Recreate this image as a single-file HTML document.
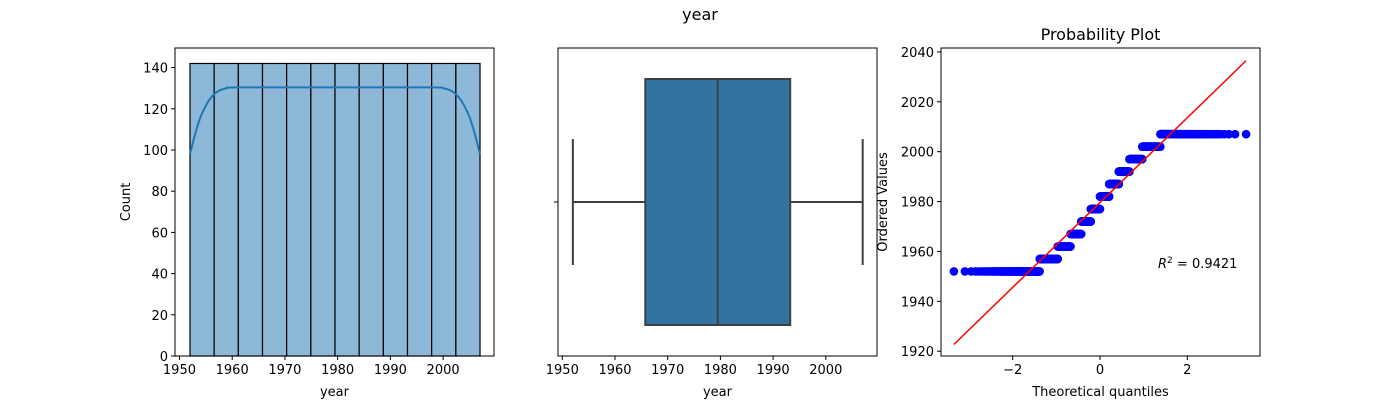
<!DOCTYPE html>
<html><head><meta charset="utf-8"><style>
html,body{margin:0;padding:0;background:#fff;}
svg{display:block;font-family:"DejaVu Sans","Liberation Sans",sans-serif;}
</style></head><body>
<svg id="fig" width="1400" height="400" viewBox="0 0 1400 400" xmlns="http://www.w3.org/2000/svg">
<text x="700" y="20" font-size="16" text-anchor="middle" fill="#000">year</text>
<g id="ax1"></g>
<g id="ax2"></g>
<g id="ax3"></g>
</svg>
<script>
// ---- data ----
const binEdges = [1952,1956.58,1961.17,1965.75,1970.33,1974.92,1979.5,1984.08,1988.67,1993.25,1997.83,2002.42,2007];
const binCounts = [142,142,142,142,142,142,142,142,142,142,142,142];
const kdeX = [1952,1953,1954,1955,1956,1957,1958,1959,1961,1980,1998,2000,2001,2002,2003,2004,2005,2006,2007];
const kdeY = [98,108,116,121.5,125.5,128,129.3,130,130.4,130.4,130.4,130,129.3,128,125.5,121.5,116,108,98];
const histYTicks = [0,20,40,60,80,100,120,140];
const yearTicks = [1950,1960,1970,1980,1990,2000];
const boxStats = {min:1952, q1:1965.75, median:1979.5, q3:1993.25, max:2007};
const ppYears = [1952,1957,1962,1967,1972,1977,1982,1987,1992,1997,2002,2007];
const ppCounts = [142,142,142,142,142,142,142,142,142,142,142,142];
const fitSlope = 17.0, fitIntercept = 1979.6;
const ppXTicks = [-2,0,2];
const ppYTicks = [1920,1940,1960,1980,2000,2020,2040];
const r2Text = "0.9421";

const NS="http://www.w3.org/2000/svg";
function mk(parent,tag,attrs,text){const e=document.createElementNS(NS,tag);for(const k in attrs)e.setAttribute(k,attrs[k]);if(text!==undefined)e.textContent=text;parent.appendChild(e);return e;}

// ---- axis 1: histogram ----
(function(){
const g=document.getElementById('ax1');
const L=175,R=494,T=48,B=356;
const xs=v=>190+(v-1952)*5.273, ys=v=>B-v*2.06;
for(let i=0;i<binCounts.length;i++){
 const r=mk(g,'rect',{x:xs(binEdges[i]),y:ys(binCounts[i]),width:xs(binEdges[i+1])-xs(binEdges[i]),height:B-ys(binCounts[i]),fill:'#8db8d8',stroke:'#000','stroke-width':1.2});
 
 
}
let pts=kdeX.map((x,i)=>[xs(x),ys(kdeY[i])]);
let d='M'+pts[0][0].toFixed(1)+','+pts[0][1].toFixed(1);
for(let i=1;i<pts.length;i++){const p0=pts[Math.max(0,i-2)],p1=pts[i-1],p2=pts[i],p3=pts[Math.min(pts.length-1,i+1)];
 d+='C'+(p1[0]+(p2[0]-p0[0])/6).toFixed(1)+','+(p1[1]+(p2[1]-p0[1])/6).toFixed(1)+' '+(p2[0]-(p3[0]-p1[0])/6).toFixed(1)+','+(p2[1]-(p3[1]-p1[1])/6).toFixed(1)+' '+p2[0].toFixed(1)+','+p2[1].toFixed(1);}
const p=mk(g,'path',{d:d,fill:'none',stroke:'#1f77b4','stroke-width':2});


mk(g,'rect',{x:L,y:T,width:R-L,height:B-T,fill:'none',stroke:'#000','stroke-width':1});
histYTicks.forEach(t=>{const y=ys(t);mk(g,'line',{x1:L-4,x2:L,y1:y,y2:y,stroke:'#000'});
 const tx=mk(g,'text',{x:L-7,y:y+5,'font-size':13,'text-anchor':'end'},String(t));
 
 });
yearTicks.forEach(t=>{const x=xs(t);mk(g,'line',{x1:x,x2:x,y1:B,y2:B+4,stroke:'#000'});
 const tx=mk(g,'text',{x:x,y:B+18,'font-size':13,'text-anchor':'middle'},String(t));
 
 });
const xl=mk(g,'text',{x:(L+R)/2,y:396,'font-size':13,'text-anchor':'middle'},'year');


const yl=mk(g,'text',{x:0,y:0,'font-size':13,'text-anchor':'middle',transform:`translate(130,${(T+B)/2}) rotate(-90)`},'Count');


})();

// ---- axis 2: boxplot ----
(function(){
const g=document.getElementById('ax2');
const L=558,R=877,T=48,B=356;
const xs=v=>562.3+(v-1950)*5.27;
const cy=202, bt=79, bb=325, ct=139, cb=265, c='#3f3f3f';
mk(g,'line',{x1:xs(boxStats.min),x2:xs(boxStats.q1),y1:cy,y2:cy,stroke:c,'stroke-width':2});
mk(g,'line',{x1:xs(boxStats.q3),x2:xs(boxStats.max),y1:cy,y2:cy,stroke:c,'stroke-width':2});
mk(g,'line',{x1:xs(boxStats.min),x2:xs(boxStats.min),y1:ct,y2:cb,stroke:c,'stroke-width':2});
mk(g,'line',{x1:xs(boxStats.max),x2:xs(boxStats.max),y1:ct,y2:cb,stroke:c,'stroke-width':2});
const b=mk(g,'rect',{x:xs(boxStats.q1),y:bt,width:xs(boxStats.q3)-xs(boxStats.q1),height:bb-bt,fill:'#3274a1',stroke:c,'stroke-width':2});


mk(g,'line',{x1:xs(boxStats.median),x2:xs(boxStats.median),y1:bt,y2:bb,stroke:c,'stroke-width':2});
mk(g,'rect',{x:L,y:T,width:R-L,height:B-T,fill:'none',stroke:'#000','stroke-width':1});
mk(g,'line',{x1:L-4,x2:L,y1:cy,y2:cy,stroke:'#000'});
yearTicks.forEach(t=>{const x=xs(t);mk(g,'line',{x1:x,x2:x,y1:B,y2:B+4,stroke:'#000'});
 const tx=mk(g,'text',{x:x,y:B+18,'font-size':13,'text-anchor':'middle'},String(t));
 
 });
const xl=mk(g,'text',{x:(L+R)/2,y:396,'font-size':13,'text-anchor':'middle'},'year');


})();

// ---- axis 3: probability plot ----
function ppf(p){const a=[-39.6968302866538,220.946098424521,-275.928510446969,138.357751867269,-30.6647980661472,2.50662827745924],
b=[-54.4760987982241,161.585836858041,-155.698979859887,66.8013118877197,-13.2806815528857],
c=[-0.00778489400243029,-0.322396458041136,-2.40075827716184,-2.54973253934373,4.37466414146497,2.93816398269878],
d=[0.00778469570904146,0.32246712907004,2.445134137143,3.75440866190742];
const pl=0.02425;let q,r;
if(p<pl){q=Math.sqrt(-2*Math.log(p));return(((((c[0]*q+c[1])*q+c[2])*q+c[3])*q+c[4])*q+c[5])/((((d[0]*q+d[1])*q+d[2])*q+d[3])*q+1);}
if(p>1-pl){q=Math.sqrt(-2*Math.log(1-p));return-(((((c[0]*q+c[1])*q+c[2])*q+c[3])*q+c[4])*q+c[5])/((((d[0]*q+d[1])*q+d[2])*q+d[3])*q+1);}
q=p-0.5;r=q*q;return(((((a[0]*r+a[1])*r+a[2])*r+a[3])*r+a[4])*r+a[5])*q/(((((b[0]*r+b[1])*r+b[2])*r+b[3])*r+b[4])*r+1);}
(function(){
const g=document.getElementById('ax3');
const L=941,R=1260,T=48,B=356;
const xs=v=>1100+v*43.65, ys=v=>351.2-(v-1920)*2.494;
const n=ppCounts.reduce((s,v)=>s+v,0);
const pts=mk(g,'g',{fill:'#0000ff'});


let i=0,minQ=0,maxQ=0;
ppYears.forEach((yr,k)=>{for(let j=0;j<ppCounts[k];j++){i++;
 let pr=(i-0.3175)/(n+0.365); if(i===n)pr=Math.pow(0.5,1/n); if(i===1)pr=1-Math.pow(0.5,1/n);
 const q=ppf(pr); minQ=Math.min(minQ,q); maxQ=Math.max(maxQ,q);
 mk(pts,'circle',{cx:xs(q).toFixed(1),cy:ys(yr).toFixed(1),r:4.3});}});
const fl=mk(g,'line',{x1:xs(minQ),y1:ys(fitIntercept+fitSlope*minQ),x2:xs(maxQ),y2:ys(fitIntercept+fitSlope*maxQ),stroke:'#ff0000','stroke-width':1.5});


mk(g,'rect',{x:L,y:T,width:R-L,height:B-T,fill:'none',stroke:'#000','stroke-width':1});
ppYTicks.forEach(t=>{const y=ys(t);mk(g,'line',{x1:L-4,x2:L,y1:y,y2:y,stroke:'#000'});
 const tx=mk(g,'text',{x:L-7,y:y+5,'font-size':13,'text-anchor':'end'},String(t));
 
 });
ppXTicks.forEach(t=>{const x=xs(t);mk(g,'line',{x1:x,x2:x,y1:B,y2:B+4,stroke:'#000'});
 const tx=mk(g,'text',{x:x,y:B+18,'font-size':13,'text-anchor':'middle'},t<0?'\u2212'+(-t):String(t));
 
 });
const tt=mk(g,'text',{x:(L+R)/2,y:40,'font-size':16,'text-anchor':'middle'},'Probability Plot');


const xl=mk(g,'text',{x:(L+R)/2,y:396,'font-size':13,'text-anchor':'middle'},'Theoretical quantiles');


const yl=mk(g,'text',{x:0,y:0,'font-size':13,'text-anchor':'middle',transform:`translate(887,${(T+B)/2}) rotate(-90)`},'Ordered Values');


const r2=mk(g,'text',{x:1158,y:268,'font-size':13},'');


mk(r2,'tspan',{'font-style':'italic'},'R');
mk(r2,'tspan',{dy:-5,'font-size':9},'2');
mk(r2,'tspan',{dy:5},' = '+r2Text);
})();
</script>
</body></html>
